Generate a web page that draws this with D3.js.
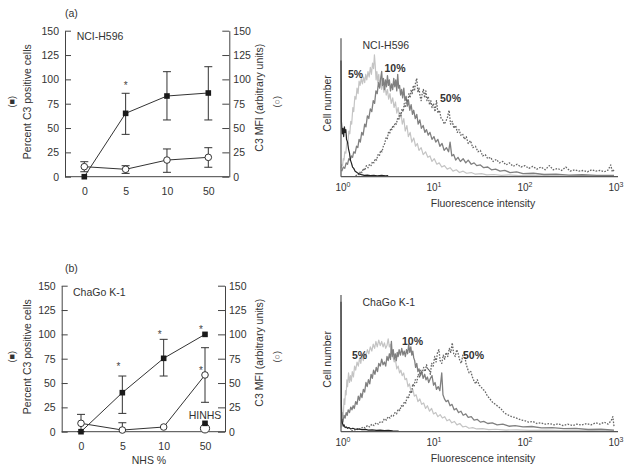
<!DOCTYPE html>
<html><head><meta charset="utf-8">
<script src="https://cdn.jsdelivr.net/npm/d3@7"></script>
<style>
body{margin:0;background:#fff}
svg{display:block}
text{font-family:"Liberation Sans",Arial,Helvetica,sans-serif;fill:#333}
</style>
</head><body>
<svg id="c" width="632" height="470"></svg>
<script>
// ---------- dose-response data ----------
const categories = ["0", "5", "10", "50"];
const yTicks = [0, 25, 50, 75, 100, 125, 150];

// (a) NCI-H596
const pctH596   = [0, 65.1, 82.9, 86.0];
const pctH596Lo = [0, 43.5, 58.3, 58.3];
const pctH596Hi = [0, 85.7, 107.9, 113.0];
const mfiH596   = [10.3, 7.6, 17.1, 19.9];
const mfiH596Lo = [5.1, 3.4, 4.5, 9.7];
const mfiH596Hi = [15.4, 11.3, 28.5, 29.8];
const starCatsH596 = ["5"];
const starValsH596 = [96];

// (b) ChaGo K-1
const pctChaGo   = [0, 40.1, 75.4, 100];
const pctChaGoLo = [0, 18.8, 57.2, 100];
const pctChaGoHi = [0, 57.2, 94.9, 100];
const mfiChaGo   = [8.6, 1.7, 4.8, 58.3];
const mfiChaGoLo = [0, 1.7, 4.8, 30.2];
const mfiChaGoHi = [17.8, 9.2, 4.8, 86.3];
const starCatsChaGo = ["5", "10", "50", "50"];
const starValsChaGo = [69.5, 102.1, 107.9, 65.1];
const hinhsCat = "50";
const hinhsPct = 8.6;
const hinhsMfi = 3.4;

// ---------- flow cytometry histograms: [fluorescence intensity, relative cell number] ----------
const histTicks = [1, 10, 100, 1000];

const h596Ctrl = [[1.0,84],[1.01,40],[1.03,31],[1.05,35],[1.07,29],[1.09,36],[1.11,32],[1.13,34],[1.15,27],[1.18,25],[1.21,20],[1.24,17],[1.27,12],[1.3,10],[1.34,7],[1.38,6],[1.43,4],[1.5,3],[1.58,2],[1.68,1.5],[1.8,1],[1.95,1.2],[2.1,0.8],[2.3,1],[2.5,0.7],[2.8,0.9],[3.1,0.6],[3.3,0.8]];
const h596P5 = [[1.0,6],[1.02,9],[1.04,8],[1.06,13],[1.08,12],[1.1,18],[1.13,17],[1.16,25],[1.19,24],[1.22,33],[1.25,31],[1.28,40],[1.31,38],[1.35,50],[1.38,47],[1.42,58],[1.46,56],[1.5,64],[1.54,60],[1.58,69],[1.62,66],[1.67,71],[1.72,67],[1.77,72],[1.82,68],[1.87,74],[1.92,70],[1.98,76],[2.04,72],[2.1,79],[2.16,74],[2.22,82],[2.28,78],[2.33,88],[2.38,80],[2.43,70],[2.48,76],[2.54,68],[2.6,74],[2.66,65],[2.73,71],[2.8,63],[2.88,69],[2.96,61],[3.05,66],[3.14,59],[3.24,63],[3.34,56],[3.45,60],[3.57,53],[3.7,57],[3.83,50],[3.97,54],[4.1,46],[4.25,50],[4.4,42],[4.56,46],[4.72,38],[4.9,42],[5.08,33],[5.3,37],[5.5,29],[5.75,32],[6.0,25],[6.3,28],[6.6,22],[6.9,24],[7.2,19],[7.6,21],[8.0,16],[8.5,18],[9.0,14],[9.5,15],[10.0,11],[10.6,13],[11.3,9],[12.0,10],[12.8,7],[13.7,8],[14.7,5.5],[15.8,6.5],[17,4],[18.5,5],[20,3],[22,4],[24,2.5],[27,3],[30,1.8],[35,2.2],[40,1.3],[48,1.6],[58,1],[70,1.3],[90,0.8],[120,1],[160,0.6],[220,0.9],[300,0.5],[450,0.8],[700,0.5],[1000,0.6]];
const h596P10 = [[1.02,4],[1.06,7],[1.1,6],[1.14,10],[1.18,9],[1.22,13],[1.26,12],[1.3,15],[1.34,14],[1.38,18],[1.43,17],[1.48,22],[1.53,21],[1.58,27],[1.63,25],[1.69,32],[1.75,30],[1.82,38],[1.88,36],[1.95,44],[2.02,42],[2.1,49],[2.18,47],[2.26,55],[2.34,53],[2.42,62],[2.5,60],[2.58,68],[2.66,64],[2.74,72],[2.8,76],[2.86,66],[2.93,71],[3.0,63],[3.08,70],[3.16,65],[3.24,73],[3.32,66],[3.4,70],[3.5,62],[3.6,67],[3.7,63],[3.8,71],[3.9,65],[4.0,70],[4.1,62],[4.2,74],[4.3,64],[4.4,66],[4.52,59],[4.64,63],[4.76,57],[4.9,64],[5.04,55],[5.2,58],[5.36,51],[5.52,55],[5.7,48],[5.9,52],[6.1,45],[6.3,48],[6.55,42],[6.8,45],[7.05,38],[7.35,41],[7.65,35],[8.0,37],[8.35,32],[8.7,34],[9.1,30],[9.5,32],[10.0,27],[10.5,29],[11.0,25],[11.6,27],[12.2,22],[12.9,24],[13.6,19],[14.4,21],[15.2,18],[15.8,25],[16.5,15],[17.3,16],[18.2,12],[19.3,14],[20.5,11],[22,13],[23.5,10],[25,12],[27,9],[29,10],[31,8],[34,8.5],[37,6.5],[41,7],[45,5],[50,5.5],[56,4],[63,4.5],[72,3],[85,3.5],[100,2.2],[130,2.5],[170,1.6],[230,1.8],[320,1.2],[450,1.4],[650,1],[1000,1]];
const h596P50 = [[1.45,0.5],[1.52,2],[1.58,1.5],[1.64,4],[1.7,3],[1.76,6],[1.82,4.5],[1.9,8],[1.98,6.5],[2.06,9],[2.14,8],[2.22,11],[2.3,10],[2.38,13],[2.46,12],[2.55,16],[2.64,15],[2.73,19],[2.82,18],[2.92,22],[3.02,24],[3.12,28],[3.22,27],[3.32,32],[3.42,31],[3.52,35],[3.62,34],[3.72,37],[3.82,36],[3.94,39],[4.06,38],[4.18,42],[4.3,41],[4.42,46],[4.55,44],[4.68,49],[4.82,47],[4.96,53],[5.1,50],[5.26,56],[5.42,54],[5.58,60],[5.74,57],[5.9,63],[6.06,60],[6.24,66],[6.42,62],[6.6,68],[6.8,71],[7.0,61],[7.2,64],[7.4,58],[7.6,55],[7.8,60],[8.05,63],[8.3,57],[8.55,62],[8.8,55],[9.1,58],[9.4,52],[9.7,55],[10.0,50],[10.4,53],[10.8,47],[11.2,55],[11.6,46],[12.1,48],[12.6,42],[13.1,41],[13.6,38],[14.2,40],[14.8,43],[15.4,48],[16.0,38],[16.7,40],[17.4,35],[18.2,37],[19.0,32],[19.8,34],[20.7,30],[21.7,31],[22.7,27],[23.8,29],[25,24],[26.5,26],[28,21],[30,22],[32,18],[34,19],[36,15],[38.5,16],[41,13],[44,14],[47,11],[51,12.5],[55,10],[60,11],[65,8.5],[71,10],[78,7.5],[86,9],[95,7],[105,8],[116,6],[128,7.5],[142,5.5],[158,7],[175,5],[195,8],[215,5],[240,6],[265,4.5],[295,7],[330,4],[370,5],[410,4],[460,4.5],[510,3.5],[570,5],[630,4],[700,4.5],[780,3.5],[860,4.8],[920,8.5],[960,3.5],[1000,5]];

const chagoCtrl = [[1.0,95],[1.01,20],[1.02,8],[1.04,6],[1.06,4],[1.08,5],[1.11,3],[1.14,3.5],[1.18,2.5],[1.22,3],[1.28,2],[1.35,2.5],[1.44,1.8],[1.55,2],[1.7,1.5],[1.85,1.7],[2.0,1.2],[2.2,1.4],[2.45,1],[2.7,1.1],[3.0,0.8],[3.3,0.9],[3.7,0.6],[4.3,0.5]];
const chagoP5 = [[1.0,3],[1.02,8],[1.04,14],[1.06,12],[1.08,24],[1.1,20],[1.12,30],[1.14,27],[1.16,38],[1.18,33],[1.21,43],[1.24,36],[1.27,41],[1.3,37],[1.33,44],[1.37,40],[1.41,48],[1.45,45],[1.5,51],[1.55,48],[1.6,54],[1.65,50],[1.7,56],[1.76,52],[1.82,58],[1.88,55],[1.95,60],[2.02,57],[2.1,62],[2.18,59],[2.26,64],[2.34,61],[2.42,66],[2.5,62],[2.6,67],[2.7,63],[2.8,66],[2.9,62],[3.0,65],[3.1,61],[3.2,63],[3.3,68],[3.4,62],[3.5,64],[3.6,58],[3.72,55],[3.84,51],[3.96,53],[4.1,46],[4.25,48],[4.4,43],[4.55,45],[4.7,41],[4.88,43],[5.05,38],[5.25,39],[5.45,33],[5.65,35],[5.9,29],[6.15,31],[6.4,26],[6.7,27],[7.0,22],[7.35,24],[7.7,20],[8.1,21],[8.5,17],[8.9,19],[9.4,15],[9.9,17],[10.4,13],[11.0,14],[11.6,11],[12.3,12.5],[13.0,10],[13.8,11],[14.6,8],[15.5,9],[16.5,6.5],[17.6,7.5],[18.8,5],[20.2,6],[21.8,3.5],[23.5,4],[25.5,2.5],[28,3],[31,2],[36,2.2],[42,1.5],[50,1.8],[65,1.2],[85,1.4],[120,1],[180,1.1],[280,0.8],[450,1],[700,0.7],[1000,0.8]];
const chagoP10 = [[1.01,6],[1.03,9],[1.05,7],[1.08,12],[1.11,10],[1.14,14],[1.17,12],[1.2,16],[1.24,14],[1.28,18],[1.32,16],[1.36,19],[1.4,17],[1.45,22],[1.5,20],[1.55,26],[1.6,23],[1.65,28],[1.7,25],[1.76,31],[1.82,29],[1.88,36],[1.94,33],[2.0,38],[2.07,35],[2.14,42],[2.21,39],[2.28,45],[2.36,42],[2.44,47],[2.52,44],[2.6,50],[2.7,48],[2.8,53],[2.9,49],[3.0,51],[3.1,48],[3.2,55],[3.3,52],[3.4,57],[3.5,53],[3.58,66],[3.66,55],[3.75,60],[3.85,53],[3.95,57],[4.05,52],[4.15,58],[4.25,55],[4.35,60],[4.5,56],[4.65,61],[4.8,56],[4.95,59],[5.1,55],[5.25,60],[5.4,57],[5.55,64],[5.7,58],[5.85,62],[6.0,56],[6.15,59],[6.3,54],[6.45,52],[6.6,47],[6.8,50],[7.0,44],[7.2,46],[7.45,41],[7.7,44],[8.0,39],[8.3,42],[8.6,38],[8.9,40],[9.2,36],[9.6,39],[10.0,41],[10.4,34],[10.8,36],[11.2,31],[11.7,33],[12.2,30],[12.8,43],[13.2,27],[13.7,24],[14.3,22],[15.0,23],[15.8,19],[16.6,20],[17.5,16],[18.5,17],[19.6,14],[20.8,15],[22,12],[23.5,13],[25,10.5],[27,11],[29,8.5],[31.5,9],[34,7],[37,7.5],[41,6],[46,6.5],[52,5],[60,5.5],[70,4],[82,4.5],[100,3.5],[125,3.8],[160,2.8],[210,3],[280,2.2],[380,2.4],[520,1.6],[720,1.8],[1000,1.2]];
const chagoP50 = [[1.3,0.5],[1.38,1.5],[1.46,1],[1.55,2.5],[1.64,1.8],[1.74,3.5],[1.84,2.8],[1.95,4.5],[2.06,3.5],[2.18,5.5],[2.3,4.5],[2.44,6.5],[2.58,5.5],[2.72,7.5],[2.86,7],[3.0,9.5],[3.15,8.5],[3.3,11],[3.45,10],[3.6,12],[3.76,11.5],[3.92,14],[4.08,13],[4.25,16.5],[4.42,15.5],[4.6,19],[4.78,18],[4.96,22],[5.15,21],[5.35,26],[5.55,25],[5.75,30],[5.95,28],[6.15,35],[6.35,33],[6.55,38],[6.8,36],[7.05,42],[7.3,40],[7.55,45],[7.8,43],[8.1,47],[8.4,44],[8.7,49],[9.0,45],[9.3,46],[9.6,42],[9.9,50],[10.3,48],[10.7,55],[11.1,51],[11.5,58],[11.9,60],[12.3,52],[12.8,50],[13.3,56],[13.8,53],[14.3,58],[14.9,55],[15.5,61],[16.1,58],[16.7,65],[17.3,57],[18.0,55],[18.7,60],[19.4,57],[20.2,52],[21.0,50],[21.8,56],[22.7,58],[23.6,50],[24.6,46],[25.6,43],[26.7,44],[27.8,40],[29,37],[30.2,35],[31.5,38],[33,34],[34.5,33],[36,31],[38,30],[40,27],[42,25],[44.5,23],[47,21],[50,20],[53,18.5],[57,17],[61,14.5],[65,13],[70,12],[75,11],[81,10.5],[88,9.5],[96,8.5],[105,8],[115,7],[128,7.5],[142,6],[158,6.5],[175,5.5],[195,6],[220,5],[245,5.8],[275,4.5],[310,5.5],[350,4.5],[390,5.5],[440,4.8],[500,6],[560,5],[630,6.5],[700,5.5],[780,7],[860,5.5],[930,8],[970,11],[1000,4]];

const svg = d3.select("#c");
const FS = 10.5;

function series(vals, lo, hi) {
  return categories.map((c, i) => ({ c, v: vals[i], lo: lo[i], hi: hi[i] }));
}

function drawDose(o) {
  const g = svg.append("g");
  const x = d3.scalePoint().domain(categories).range(o.xr);
  const y = d3.scaleLinear().domain([0, 150]).range([o.yb, o.yt]);

  const la = g.append("g").attr("transform", `translate(${o.xl},0)`)
    .call(d3.axisLeft(y).tickValues(yTicks).tickSizeInner(-6).tickSizeOuter(0).tickPadding(6));
  const ra = g.append("g").attr("transform", `translate(${o.xR},0)`)
    .call(d3.axisRight(y).tickValues(yTicks).tickSizeInner(-7).tickSizeOuter(0).tickPadding(4));
  const ba = g.append("g").attr("transform", `translate(0,${o.yb})`)
    .call(d3.axisBottom(x).tickSize(0).tickPadding(10.5));
  ba.select(".domain").remove();
  g.append("line").attr("x1", o.xl).attr("x2", o.xR).attr("y1", o.yb).attr("y2", o.yb)
    .attr("stroke", "#444").attr("stroke-width", 1);
  [la, ra, ba].forEach(a => {
    a.attr("font-family", null).attr("font-size", null);
    a.selectAll("path,line").attr("stroke", "#444");
    a.selectAll("text").style("font-size", FS + "px").attr("fill", "#333");
  });

  const line = d3.line().x(d => x(d.c)).y(d => y(d.v));
  const sets = [
    { d: series(o.pct, o.pctLo, o.pctHi), kind: "sq" },
    { d: series(o.mfi, o.mfiLo, o.mfiHi), kind: "ci" }
  ];
  sets.forEach(s => {
    g.append("path").datum(s.d).attr("d", line).attr("fill", "none")
      .attr("stroke", "#333").attr("stroke-width", 1);
  });
  sets.forEach(s => {
    s.d.filter(d => d.hi > d.lo).forEach(d => {
      const cx = x(d.c);
      g.append("line").attr("x1", cx).attr("x2", cx).attr("y1", y(d.lo)).attr("y2", y(d.hi))
        .attr("stroke", "#333").attr("stroke-width", 1);
      [d.lo, d.hi].forEach(v => {
        if (v !== d.v) g.append("line").attr("x1", cx - 4).attr("x2", cx + 4)
          .attr("y1", y(v)).attr("y2", y(v)).attr("stroke", "#333").attr("stroke-width", 1);
      });
    });
  });
  sets.forEach(s => {
    s.d.forEach(d => {
      if (s.kind === "sq") {
        g.append("rect").attr("x", x(d.c) - 2.8).attr("y", y(d.v) - 2.8)
          .attr("width", 5.6).attr("height", 5.6).attr("fill", "#1a1a1a");
      } else {
        g.append("circle").attr("cx", x(d.c)).attr("cy", y(d.v)).attr("r", 3.3)
          .attr("fill", "#fff").attr("stroke", "#333").attr("stroke-width", 1);
      }
    });
  });
  o.starCats.forEach((c, i) => {
    g.append("text").attr("x", x(c) + o.starDx).attr("y", y(o.starVals[i]) + 6)
      .attr("text-anchor", "middle").style("font-size", "10px").attr("fill", "#444")
      .style("fill", "#444").text("*");
  });
  if (o.hinhs) {
    const cx = x(o.hinhs.cat);
    g.append("circle").attr("cx", cx).attr("cy", y(o.hinhs.mfi)).attr("r", 4.6)
      .attr("fill", "#fff").attr("stroke", "#333").attr("stroke-width", 1);
    g.append("rect").attr("x", cx - 2.8).attr("y", y(o.hinhs.pct) - 2.8)
      .attr("width", 5.6).attr("height", 5.6).attr("fill", "#1a1a1a");
    g.append("text").attr("x", cx).attr("y", o.yb - 12.5).attr("text-anchor", "middle")
      .style("font-size", FS + "px").text("HINHS");
  }

  // texts
  g.append("text").attr("x", 65).attr("y", o.panelY).style("font-size", FS + "px").text(o.panel);
  g.append("text").attr("x", o.nameX).attr("y", o.nameY).style("font-size", FS + "px").text(o.name);
  const cy = (o.yb + o.yt) / 2;
  g.append("text").attr("transform", `translate(31,${cy - 2}) rotate(-90)`).attr("text-anchor", "middle")
    .style("font-size", FS + "px").text("Percent C3 positive cells");
  g.append("text").attr("transform", `translate(14.5,${cy - 2}) rotate(-90)`).attr("text-anchor", "middle")
    .style("font-size", "9px").text("(\u25A0)");
  g.append("text").attr("transform", `translate(263,${cy - 6}) rotate(-90)`).attr("text-anchor", "middle")
    .style("font-size", FS + "px").text("C3 MFI (arbitrary units)");
  g.append("text").attr("transform", `translate(280,${cy - 2}) rotate(-90)`).attr("text-anchor", "middle")
    .style("font-size", "9px").text("(\u25CB)");
  if (o.xTitle) {
    g.append("text").attr("x", 149).attr("y", o.yb + 32.5).attr("text-anchor", "middle")
      .style("font-size", FS + "px").text(o.xTitle);
  }
}

function drawHist(o) {
  const g = svg.append("g");
  const x = d3.scaleLog().domain([1, 1000]).range([341, 614]);
  const y = d3.scaleLinear().domain([0, 100]).range([o.yb, o.yt]);
  const line = d3.line().x(d => x(d[0])).y(d => y(d[1]));
  const curves = [
    { d: o.p5, c: "#c4c4c4", w: 1.2, dash: null },
    { d: o.p10, c: "#808080", w: 1.3, dash: null },
    { d: o.p50, c: "#666", w: 1.3, dash: "1.6,1.4" },
    { d: o.ctrl, c: "#222", w: 1.2, dash: null }
  ];
  curves.forEach(k => {
    g.append("path").datum(k.d).attr("d", line).attr("fill", "none")
      .attr("stroke", k.c).attr("stroke-width", k.w).attr("stroke-dasharray", k.dash)
      .attr("stroke-linejoin", "round");
  });
  g.append("line").attr("x1", 341).attr("x2", 341).attr("y1", o.yt).attr("y2", o.yb)
    .attr("stroke", "#555").attr("stroke-width", 1.2);
  g.append("line").attr("x1", 341).attr("x2", 618).attr("y1", o.yb).attr("y2", o.yb)
    .attr("stroke", "#555").attr("stroke-width", 1.2);
  histTicks.forEach(t => {
    const tx = g.append("text").attr("x", x(t) + 2).attr("y", o.yb + 13.8)
      .attr("text-anchor", "middle").style("font-size", "10px");
    tx.append("tspan").text("10");
    tx.append("tspan").attr("dy", -4).style("font-size", "7px").text(String(Math.round(Math.log10(t))));
  });
  g.append("text").attr("x", 483).attr("y", o.yb + 30).attr("text-anchor", "middle")
    .style("font-size", FS + "px").text("Fluorescence intensity");
  g.append("text").attr("transform", `translate(331,${(o.yb + o.yt) / 2 - 4}) rotate(-90)`)
    .attr("text-anchor", "middle").style("font-size", FS + "px").text("Cell number");
  g.append("text").attr("x", 362.5).attr("y", o.nameY).style("font-size", FS + "px").text(o.name);
  o.labels.forEach(l => {
    g.append("text").attr("x", l[1]).attr("y", l[2]).style("font-size", FS + "px")
      .style("font-weight", "bold").attr("fill", "#555").text(l[0]);
  });
}

drawDose({
  xl: 65, xR: 229.3, yb: 176.7, yt: 30.7, xr: [84.3, 208.3],
  pct: pctH596, pctLo: pctH596Lo, pctHi: pctH596Hi,
  mfi: mfiH596, mfiLo: mfiH596Lo, mfiHi: mfiH596Hi,
  starCats: starCatsH596, starVals: starValsH596, starDx: 0,
  panel: "(a)", panelY: 17, name: "NCI-H596", nameX: 76.7, nameY: 39.5
});
drawDose({
  xl: 61.7, xR: 225, yb: 431.7, yt: 285.7, xr: [81, 205],
  pct: pctChaGo, pctLo: pctChaGoLo, pctHi: pctChaGoHi,
  mfi: mfiChaGo, mfiLo: mfiChaGoLo, mfiHi: mfiChaGoHi,
  starCats: starCatsChaGo, starVals: starValsChaGo, starDx: -4,
  hinhs: { cat: hinhsCat, pct: hinhsPct, mfi: hinhsMfi },
  panel: "(b)", panelY: 272, name: "ChaGo K-1", nameX: 73, nameY: 296, xTitle: "NHS %"
});
drawHist({
  yb: 176.7, yt: 38.3, ctrl: h596Ctrl, p5: h596P5, p10: h596P10, p50: h596P50,
  name: "NCI-H596", nameY: 49,
  labels: [["5%", 348, 78], ["10%", 384.5, 72], ["50%", 440, 101.5]]
});
drawHist({
  yb: 431.7, yt: 295, ctrl: chagoCtrl, p5: chagoP5, p10: chagoP10, p50: chagoP50,
  name: "ChaGo K-1", nameY: 305.5,
  labels: [["5%", 352, 359], ["10%", 402, 344.5], ["50%", 463, 359]]
});
</script>
</body></html>
